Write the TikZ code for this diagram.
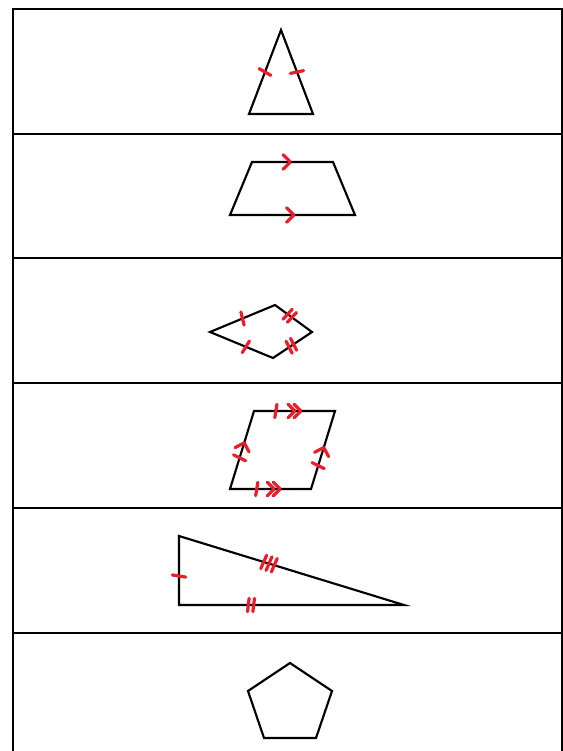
\documentclass[tikz,border=0pt]{standalone}
\usetikzlibrary{decorations.markings,calc}
\definecolor{mred}{RGB}{232,30,42}
\tikzset{
  figline/.style={draw=black, line width=1.6pt, line join=miter},
  frameline/.style={draw=black, line width=1.5pt},
  redmk/.style={draw=mred, line width=2.4pt, line cap=round, line join=round},
  onetick/.style={postaction={decorate,decoration={markings,
      mark=at position #1 with {\draw[redmk] (-0.8pt,-5pt)--(0.8pt,5pt);}}}},
  twotick/.style={postaction={decorate,decoration={markings,
      mark=at position #1 with {\draw[redmk] (-2.6pt,-5pt)--(-1.4pt,5pt) (1.4pt,-5pt)--(2.6pt,5pt);}}}},
  threetick/.style={postaction={decorate,decoration={markings,
      mark=at position #1 with {\draw[redmk] (-4.8pt,-5.5pt)--(-3.5pt,5.5pt) (-0.6pt,-5.5pt)--(0.6pt,5.5pt) (3.5pt,-5.5pt)--(4.8pt,5.5pt);}}}},
  onechev/.style={postaction={decorate,decoration={markings,
      mark=at position #1 with {\draw[redmk] (-3.5pt,-5.5pt)--(2pt,0pt)--(-3.5pt,5.5pt);}}}},
  twochev/.style={postaction={decorate,decoration={markings,
      mark=at position #1 with {\draw[redmk] (-6pt,-5pt)--(-1pt,0pt)--(-6pt,5pt) (-1.5pt,-5pt)--(3.5pt,0pt)--(-1.5pt,5pt);}}}},
}
\begin{document}
\begin{tikzpicture}[x=0.75pt,y=-0.75pt]
\useasboundingbox (0,0) rectangle (563,751);
% frame
\draw[frameline] (13,760) -- (13,9) -- (562,9) -- (562,760);
\foreach \yy in {134,258,383,508,633} \draw[frameline] (13,\yy) -- (562,\yy);
% 1 isosceles triangle
\coordinate (ta) at (281,30);
\coordinate (tb) at (249,114);
\coordinate (tc) at (313,114);
\draw[figline] (ta) -- (tb) -- (tc) -- cycle;
\path[onetick=0.5] (ta) -- (tb);
\path[onetick=0.5] (ta) -- (tc);
% 2 trapezoid
\coordinate (za) at (252,162);
\coordinate (zb) at (333,162);
\coordinate (zc) at (355,215);
\coordinate (zd) at (230,215);
\draw[figline] (za) -- (zb) -- (zc) -- (zd) -- cycle;
\path[onechev=0.44] (za) -- (zb);
\path[onechev=0.49] (zd) -- (zc);
% 3 kite
\coordinate (ka) at (210,332);
\coordinate (kb) at (275,305);
\coordinate (kc) at (312,332);
\coordinate (kd) at (273,358);
\draw[figline] (ka) -- (kb) -- (kc) -- (kd) -- cycle;
\path[onetick=0.5] (ka) -- (kb);
\path[onetick=0.57] (ka) -- (kd);
\path[twotick=0.4] (kb) -- (kc);
\path[twotick=0.53] (kc) -- (kd);
% 4 parallelogram
\coordinate (pa) at (254,411);
\coordinate (pb) at (335,411);
\coordinate (pc) at (311,489);
\coordinate (pd) at (230,489);
\draw[figline] (pa) -- (pb) -- (pc) -- (pd) -- cycle;
\path[onetick=0.27,twochev=0.52] (pa) -- (pb);
\path[onetick=0.33,twochev=0.56] (pd) -- (pc);
\path[onetick=0.4,onechev=0.56] (pd) -- (pa);
\path[onetick=0.3,onechev=0.5] (pc) -- (pb);
% 5 right triangle
\coordinate (ra) at (179,536);
\coordinate (rb) at (179,605);
\coordinate (rc) at (404,605);
\draw[figline] (ra) -- (rb) -- (rc) -- cycle;
\path[onetick=0.58] (ra) -- (rb);
\path[threetick=0.4] (ra) -- (rc);
\path[twotick=0.32] (rb) -- (rc);
% 6 pentagon
\coordinate (v1) at (290,663);
\coordinate (v2) at (332,691);
\coordinate (v3) at (316,738);
\coordinate (v4) at (264,738);
\coordinate (v5) at (248,691);
\draw[figline] (v1) -- (v2) -- (v3) -- (v4) -- (v5) -- cycle;
\end{tikzpicture}
\end{document}
